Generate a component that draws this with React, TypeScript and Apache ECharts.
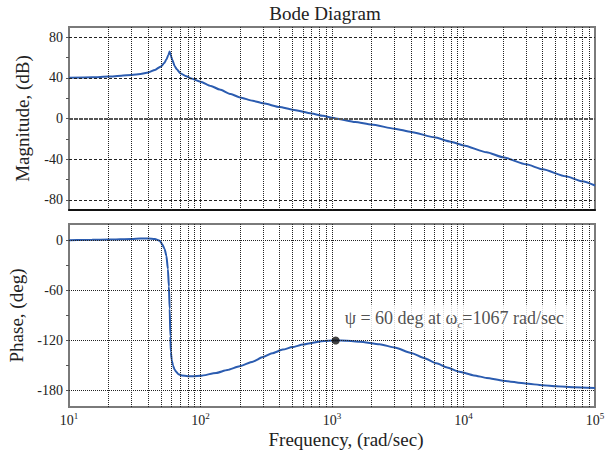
import React, { useEffect, useRef } from 'react';
import * as echarts from 'echarts';

// Magnitude curve (rad/sec, dB)
const magFreq = [10, 15, 20, 25, 30, 35, 40, 45, 50, 53, 55, 57, 58.3, 59.5, 61, 63.7, 66, 70, 78, 85, 100, 120, 140, 170, 200, 250, 300, 400, 500, 700, 855, 1000, 1067, 1500, 2000, 3000, 4000, 6000, 8000, 10000, 15000, 20000, 30000, 40000, 60000, 80000, 100000];
const magDb = [40.0, 40.5, 41.2, 42.0, 42.9, 43.8, 45.3, 47.8, 51.2, 54.5, 58.0, 62.5, 65.8, 62.0, 57.7, 51.5, 48.5, 44.6, 41.5, 39.3, 36.2, 32.0, 28.5, 24.0, 20.7, 17.4, 14.9, 11.3, 8.7, 4.9, 2.6, 0.8, 0.1, -3.4, -6.0, -10.0, -13.2, -18.5, -22.8, -26.5, -33.2, -38.2, -45.1, -50.0, -56.9, -61.8, -65.9];

// Phase curve (rad/sec, deg)
const phaseFreq = [10, 15, 20, 30, 35, 40, 45, 49, 51, 53.3, 55, 56.5, 57.5, 58.3, 59, 59.5, 60.5, 61.8, 63.5, 65.5, 68, 72, 80, 88, 100, 131.6, 160, 198.6, 250, 298.6, 350, 423, 500, 602, 700, 807, 950, 1067, 1300, 1628, 2300, 3000, 4000, 5000, 6233, 7500, 9300, 12000, 15000, 19950, 29600, 40000, 50900, 70000, 100000];
const phaseDeg = [0.5, 1.0, 1.3, 2.0, 2.5, 2.5, 2.0, 0, -4, -10, -18, -34, -55, -82, -115, -134, -144, -150, -155, -158, -160.5, -162, -163, -163, -162.5, -159, -155.5, -151, -145.5, -140, -135.5, -131, -128, -125, -123, -121.2, -120.3, -120, -120.4, -121.5, -124.5, -128.5, -135, -141, -147.5, -152.5, -157.5, -162, -165, -168.3, -171.8, -173.8, -175, -176.2, -177.2];

// Axes
const freqGridLines = [20, 30, 40, 50, 60, 70, 80, 90, 100, 200, 300, 400, 500, 600, 700, 800, 900, 1000, 2000, 3000, 4000, 5000, 6000, 7000, 8000, 9000, 10000, 20000, 30000, 40000, 50000, 60000, 70000, 80000, 90000];
const magTicks = [-80, -40, 0, 40, 80];
const magMinorTicks = [-80, -60, -40, -20, 0, 20, 40, 60, 80];
const phaseTicks = [0, -60, -120, -180];
const phaseMinorTicks = [0, -30, -60, -90, -120, -150, -180];

// Annotation
const crossoverPoint = [1067, -120];
const annotationParts = ['ψ = 60 deg at ω', 'c', '=1067 rad/sec'];

const FONT = '"Liberation Serif", "Times New Roman", Times, serif';
const TEXT = '#222';
const CURVE = '#2b5cb0';

export default function App() {
  const ref = useRef<HTMLDivElement>(null);
  useEffect(() => {
    document.body.style.margin = '0';
    const chart = echarts.init(ref.current!, null, { renderer: 'svg' });

    const magData = magFreq.map((f, i) => [f, magDb[i]]);
    const phaseData = phaseFreq.map((f, i) => [f, phaseDeg[i]]);

    const vLines = freqGridLines.map((v) => ({ xAxis: v, lineStyle: { type: 'dotted', color: '#222', width: 1 } }));
    const magH = magTicks.map((v) =>
      v === 0
        ? { yAxis: v, lineStyle: { type: [4, 1], color: '#555', width: 2 } }
        : { yAxis: v, lineStyle: { type: [3, 2], color: '#222', width: 1 } }
    );
    const phaseH = phaseTicks.map((v) => ({ yAxis: v, lineStyle: { type: 'dotted', color: '#222', width: 1 } }));

    const grids = [
      { left: 69, top: 27, width: 526, height: 183 },
      { left: 69, top: 224, width: 526, height: 183 },
    ].map((g) => ({ ...g, show: true, borderColor: '#7a7a7a', borderWidth: 2, backgroundColor: 'transparent', containLabel: false, outerBoundsMode: 'none' }));

    const xAxisBase = (i: number) => ({
      type: 'log',
      logBase: 10,
      min: 10,
      max: 100000,
      gridIndex: i,
      axisLine: { show: true, onZero: false, lineStyle: { color: i === 0 ? '#111' : '#7a7a7a', width: 2 } },
      axisTick: { show: false },
      splitLine: { show: false },
      axisLabel: {
        show: i === 1,
        margin: 6,
        color: TEXT,
        fontFamily: FONT,
        fontSize: 14,
        formatter: (v: number) => '{b|10}{s|' + Math.round(Math.log10(v)) + '}',
        rich: {
          b: { fontFamily: FONT, fontSize: 14, lineHeight: 14, color: TEXT },
          s: { fontFamily: FONT, fontSize: 9, lineHeight: 9, padding: [0, 0, 9, 0], color: TEXT },
        },
      },
      name: i === 1 ? 'Frequency, (rad/sec)' : '',
      nameLocation: 'middle',
      nameGap: 21,
      nameTextStyle: { fontFamily: FONT, fontSize: 19, color: TEXT, padding: [0, 0, 0, 28] },
    });

    const yAxisBase = (i: number) => ({
      type: 'value',
      gridIndex: i,
      min: i === 0 ? -90 : -200,
      max: i === 0 ? 90 : 20,
      axisLine: { show: false },
      axisTick: {
        show: true,
        inside: false,
        length: 3,
        customValues: i === 0 ? magMinorTicks : phaseMinorTicks,
        lineStyle: { color: '#555', width: 1 },
      },
      splitLine: { show: false },
      axisLabel: {
        customValues: i === 0 ? magTicks : phaseTicks,
        margin: 6,
        color: TEXT,
        fontFamily: FONT,
        fontSize: 14,
      },
      name: i === 0 ? 'Magnitude, (dB)' : 'Phase, (deg)',
      nameLocation: 'middle',
      nameGap: 37,
      nameRotate: 90,
      nameTextStyle: { fontFamily: FONT, fontSize: 19, color: TEXT },
    });

    const option = {
      animation: false,
      backgroundColor: '#fff',
      graphic: [
        {
          type: 'text',
          x: 325,
          y: 13,
          style: { text: 'Bode Diagram', fontFamily: FONT, fontSize: 19, fill: TEXT, textAlign: 'center', textVerticalAlign: 'middle' },
        },
      ],
      grid: grids,
      xAxis: [xAxisBase(0), xAxisBase(1)],
      yAxis: [yAxisBase(0), yAxisBase(1)],
      series: [
        {
          type: 'line',
          xAxisIndex: 0,
          yAxisIndex: 0,
          data: [[10, 0]],
          showSymbol: false,
          lineStyle: { opacity: 0 },
          silent: true,
          z: 1,
          markLine: { silent: true, symbol: ['none', 'none'], label: { show: false }, data: [...vLines, ...magH] },
        },
        {
          type: 'line',
          xAxisIndex: 1,
          yAxisIndex: 1,
          data: [[10, 0]],
          showSymbol: false,
          lineStyle: { opacity: 0 },
          silent: true,
          z: 1,
          markLine: { silent: true, symbol: ['none', 'none'], label: { show: false }, data: [...vLines, ...phaseH] },
        },
        {
          type: 'line',
          xAxisIndex: 0,
          yAxisIndex: 0,
          data: magData,
          showSymbol: false,
          smooth: 0.2,
          smoothMonotone: 'x',
          lineStyle: { color: CURVE, width: 2 },
          z: 3,
        },
        {
          type: 'line',
          xAxisIndex: 1,
          yAxisIndex: 1,
          data: phaseData,
          showSymbol: false,
          smooth: 0.2,
          smoothMonotone: 'x',
          lineStyle: { color: CURVE, width: 2 },
          z: 3,
        },
        {
          type: 'scatter',
          xAxisIndex: 1,
          yAxisIndex: 1,
          data: [crossoverPoint],
          symbolSize: 8,
          itemStyle: { color: '#111' },
          z: 5,
          label: {
            show: true,
            position: [5, -32],
            backgroundColor: '#fff',
            padding: [4, 8, 3, 8],
            formatter: '{t|' + annotationParts[0] + '}{c|' + annotationParts[1] + '}{t|' + annotationParts[2] + '}',
            rich: {
              t: { fontFamily: FONT, fontSize: 18, lineHeight: 19, color: TEXT },
              c: { fontFamily: FONT, fontSize: 11, lineHeight: 11, padding: [12, 0, 0, 0], color: TEXT, fontStyle: 'italic' },
            },
          },
        },
      ],
    };

    chart.setOption(option as any);
    return () => chart.dispose();
  }, []);
  return <div ref={ref} style={{ width: 611, height: 452 }} />;
}
